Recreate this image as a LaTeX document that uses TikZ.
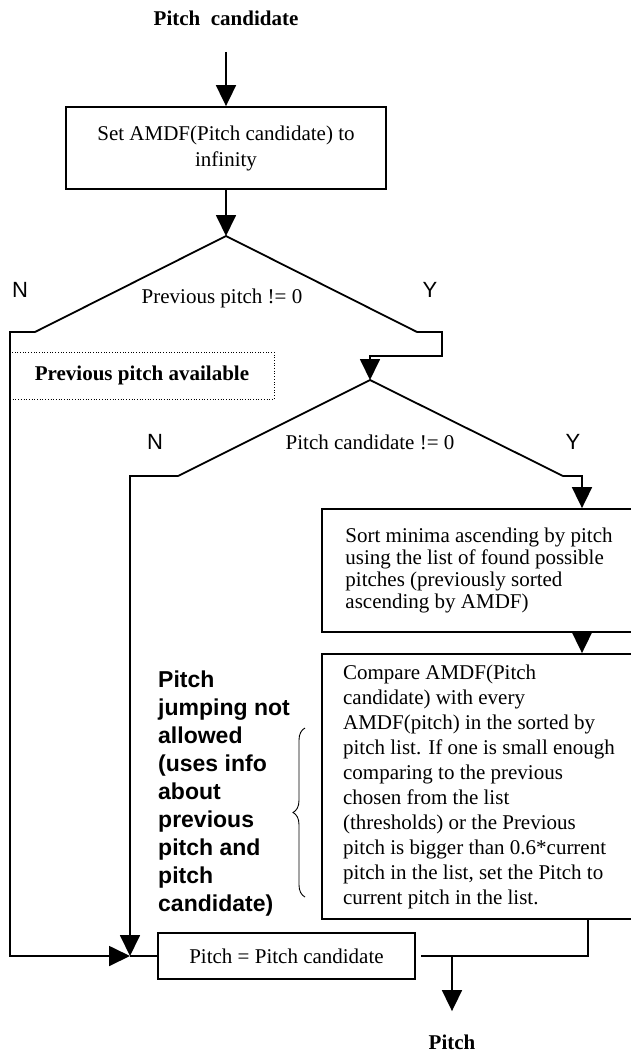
\documentclass[tikz,border=0pt]{standalone}
\usepackage{fontspec}
\setmainfont{Liberation Serif}
\setsansfont{Liberation Sans}
\usetikzlibrary{arrows.meta,positioning,calc,decorations.pathreplacing}

\newcommand{\boxfont}{\fontsize{21}{26}\selectfont}

\begin{document}
\begin{tikzpicture}[x=1pt, y=-1pt,
    box/.style={rectangle, draw=black, line width=1.8pt, inner sep=0pt, font=\boxfont, align=center},
    textbox/.style={box, align=left},
    arrow/.style={-{Triangle[width=20pt,length=21pt]}, line width=1.8pt},
    wire/.style={line width=1.8pt},
    yesno/.style={font=\sffamily\fontsize{22}{22}\selectfont},
    heading/.style={font=\bfseries\boxfont}
]
\useasboundingbox (0,0) rectangle (630,1053);

% Input and first step
\node[heading] (cand) at (226,18) {Pitch~ candidate};
\node[box, minimum width=320pt, minimum height=82pt] (setinf) at (226,148) {Set AMDF(Pitch candidate) to\\infinity};

% Decision: previous pitch
\coordinate (d1top) at (226,236);
\coordinate (d1L) at (35,332);
\coordinate (d1R) at (417,332);
\draw[wire] (d1L) -- (d1top) -- (d1R);
\node[font=\boxfont] (d1) at (222,298) {Previous pitch != 0};
\node[yesno] (d1no) at (20,290) {N};
\node[yesno] (d1yes) at (430,290) {Y};
\node[draw, dotted, line width=0.7pt, minimum width=264pt, minimum height=47pt, font=\bfseries\boxfont] (prevok) at (142,375.5) {Previous pitch available};

% Decision: pitch candidate
\coordinate (d2top) at (370,380);
\coordinate (d2L) at (178,476);
\coordinate (d2R) at (563,476);
\draw[wire] (d2L) -- (d2top) -- (d2R);
\node[font=\boxfont] (d2) at (370,442) {Pitch candidate != 0};
\node[yesno] (d2no) at (155,442) {N};
\node[yesno] (d2yes) at (573,442) {Y};

% Processing boxes
\node[textbox, minimum width=314pt, minimum height=123pt, font=\fontsize{21}{22}\selectfont] (sortbox) at (479,570.5) {Sort minima ascending by pitch\\
    using the list of found possible\\
    pitches (previously sorted\\
    ascending by AMDF)};
\node[textbox, minimum width=314pt, minimum height=265pt, font=\fontsize{21}{25}\selectfont] (compare) at (479,786.5) {Compare AMDF(Pitch\\
    candidate) with every\\
    AMDF(pitch) in the sorted by\\
    pitch list. If one is small enough\\
    comparing to the previous\\
    chosen from the list\\
    (thresholds) or the Previous\\
    pitch is bigger than 0.6*current\\
    pitch in the list, set the Pitch to\\
    current pitch in the list.};
\node[box, minimum width=257pt, minimum height=46pt] (pitcheq) at (286.5,956) {Pitch = Pitch candidate};
\node[heading] (pout) at (452,1042) {Pitch};

% Side note
\node[align=left, anchor=west, inner sep=0pt, font=\sffamily\bfseries\fontsize{23}{27.9}\selectfont] (note) at (158,793.5) {Pitch\\jumping not\\allowed\\(uses info\\about\\previous\\pitch and\\pitch\\candidate)};
\draw[decorate, decoration={brace, amplitude=12pt}, line width=0.9pt] (305,897) -- (305,728);

% Connectors
\coordinate (merge) at (130,956);
\coordinate (rail) at (582,476);
\draw[arrow, shorten <=23pt] (cand) -- (setinf);
\draw[arrow] (setinf) -- (d1top);
\draw[arrow] (d1R) -- ++(25,0) -- ++(0,24) -| (d2top);
\draw[arrow] (d1L) -- ++(-25,0) |- (merge);
\draw[arrow] (d2L) -- ++(-48,0) -- (merge);
\draw[wire] (merge) -- (pitcheq);
\draw[arrow] (d2R) -- (rail) -- (rail |- sortbox.north);
\draw[arrow] (rail |- sortbox.south) -- (rail |- compare.north);
\draw[wire] ([xshift=109pt]compare.south) |- ([xshift=5pt]pitcheq.east);
\draw[arrow, shorten >=20pt] (pitcheq.east -| pout) -- (pout);

\end{tikzpicture}
\end{document}
